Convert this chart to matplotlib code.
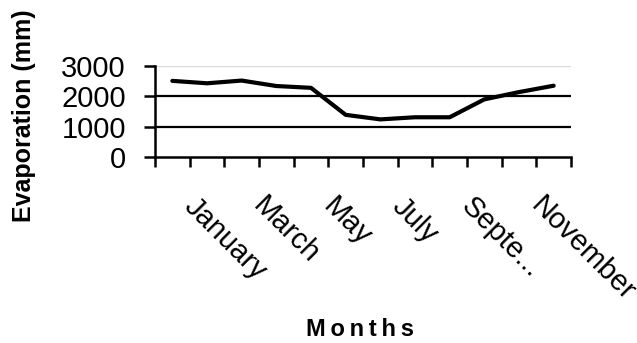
import numpy as np
import matplotlib
matplotlib.use("Agg")
from matplotlib import pyplot as plt
from matplotlib.transforms import ScaledTranslation

plt.rcParams["font.family"] = ["Liberation Sans", "DejaVu Sans"]

months = ["January", "February", "March", "April", "May", "June", "July",
          "August", "September", "October", "November", "December"]
evaporation = [2510, 2430, 2520, 2340, 2280, 1390, 1240, 1310, 1310, 1900, 2140, 2350]
label_idx = [0, 2, 4, 6, 8, 10]
label_text = ["January", "March", "May", "July", "Septe...", "November"]
y_ticks = [0, 1000, 2000, 3000]

fig = plt.figure(figsize=(6.37, 3.43), dpi=100)
ax = fig.add_axes([155 / 637, 1 - 157 / 343, 416 / 637, 91 / 343])

x = np.arange(len(months))
ax.plot(x, evaporation, color="black", lw=3.0, solid_joinstyle="round",
        solid_capstyle="round", zorder=3)

ax.set_xlim(-0.5, 11.5)
ax.set_ylim(0, 3000)

# gridlines: black at 1000/2000, pale at the top
for v in y_ticks[1:]:
    ax.axhline(v, color="black" if v < 3000 else "#d9d9d9", lw=1.6, zorder=1)

for side in ["top", "right"]:
    ax.spines[side].set_visible(False)
for side in ["left", "bottom"]:
    ax.spines[side].set_linewidth(1.8)

ax.set_yticks(y_ticks)
ax.set_yticklabels([str(v) for v in y_ticks])
ax.tick_params(axis="y", direction="out", length=8, width=1.8, pad=13, labelsize=21)

ax.set_xticks(np.arange(-0.5, 12, 1.0))
ax.set_xticklabels([])
ax.tick_params(axis="x", which="major", direction="out", length=7.5, width=1.8)

ax.set_xticks(label_idx, minor=True)
ax.set_xticklabels(label_text, minor=True, rotation=-45, ha="left", va="top",
                   rotation_mode="anchor", fontsize=21)
ax.tick_params(axis="x", which="minor", length=0, pad=25)
shift = ScaledTranslation(26 / 100, 0, fig.dpi_scale_trans)
for lab in ax.get_xticklabels(minor=True):
    lab.set_transform(lab.get_transform() + shift)

fig.text(24 / 637, 1 - 116 / 343, "Evaporation (mm)", rotation=90,
         ha="center", va="center", fontsize=18, fontweight="bold")
fig.text(360 / 637, 1 - 330 / 343, "M\u2009o\u2009n\u2009t\u2009h\u2009s",
         ha="center", va="center", fontsize=17, fontweight="bold")

fig.savefig("out.png", dpi=100)
